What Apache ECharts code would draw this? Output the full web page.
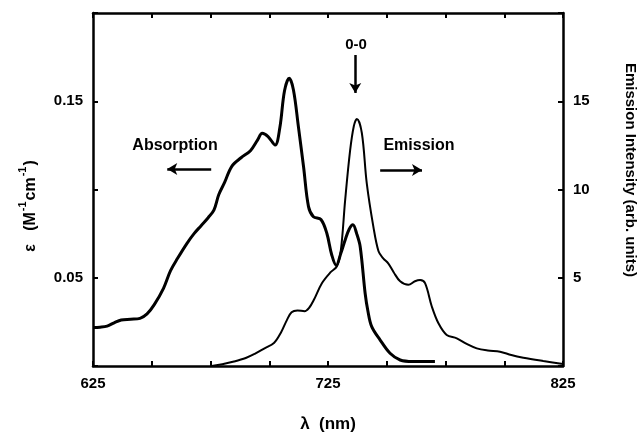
<!DOCTYPE html>
<html>
<head>
<meta charset="utf-8">
<script src="https://cdn.jsdelivr.net/npm/echarts@6/dist/echarts.min.js"></script>
<style>
  html, body { margin: 0; padding: 0; background: #fff; }
  #chart { width: 639px; height: 433px; }
</style>
</head>
<body>
<div id="chart"></div>
<script>
// absorption spectrum: wavelength (nm) vs epsilon (left axis)
const absNm = [625, 628, 631, 634, 637, 641, 645, 648, 651, 655, 658, 661, 665, 668, 671, 674, 676.5, 678.5, 681, 684,
  688, 692, 695, 697, 699.5, 702.5, 704.5, 706.5, 708.5, 710.3, 712.4, 714.6, 716.7, 718.8, 722, 724.5, 726.6, 728.5,
  730.5, 732.3, 734, 735.6, 737.2, 738.7, 740.8, 742, 743.6, 747.2, 751.4, 755.7, 761, 770.5]
const absEps = [0.0218, 0.0220, 0.0226, 0.0245, 0.0261, 0.0265, 0.0270, 0.0295, 0.0346, 0.0440, 0.0540, 0.0610, 0.0695,
  0.0750, 0.0795, 0.0840, 0.0885, 0.0970, 0.1040, 0.1130, 0.1180, 0.1220, 0.1280, 0.1318, 0.1300, 0.1252, 0.1350, 0.1560,
  0.1630, 0.1564, 0.1356, 0.1129, 0.0903, 0.0846, 0.0830, 0.0752, 0.0629, 0.0570, 0.0640, 0.0714, 0.0775, 0.0800, 0.0750,
  0.0676, 0.0412, 0.0310, 0.0223, 0.0147, 0.0072, 0.0034, 0.0025, 0.0025]

// emission spectrum: wavelength (nm) vs intensity (right axis)
const emNm = [675.5, 680, 685, 690, 694, 698, 702, 705, 707.5, 709.5, 712, 715, 717, 719, 722.4, 726, 728.8, 730.5,
  732.3, 734.4, 736, 737.3, 739.4, 741.5, 744.3, 746.5, 748.5, 750.7, 753, 755.7, 759.2, 762, 764.2, 766.3, 769.2, 772,
  775.5, 779.8, 784, 788.3, 793, 798.2, 803, 808.1, 816.6, 825]
const emInt = [0, 0.1, 0.25, 0.45, 0.7, 1.0, 1.3, 1.9, 2.6, 3.05, 3.15, 3.1, 3.3, 3.75, 4.69, 5.3, 5.65, 6.6, 9.4, 12.2,
  13.6, 14.0, 13.2, 10.35, 7.9, 6.5, 6.1, 5.8, 5.3, 4.8, 4.6, 4.8, 4.87, 4.69, 3.36, 2.42, 1.76, 1.57, 1.25, 1.0, 0.88,
  0.81, 0.62, 0.47, 0.28, 0.11]

const xLabels = [625, 725, 825]
const leftLabels = [0.05, 0.15]
const rightLabels = [5, 10, 15]

const FONT = "'Liberation Sans', Arial, sans-serif"
const chart = echarts.init(document.getElementById('chart'), null, { renderer: 'canvas' })

const axisLine = { onZero: false, lineStyle: { color: '#000', width: 2.5 } }
const tickIn = { inside: true, length: 5, lineStyle: { color: '#000', width: 2 } }
const lblStyle = { color: '#000', fontFamily: FONT, fontWeight: 'bold', fontSize: 15 }

const arrow = (from, to) => [{ coord: from }, { coord: to }]

chart.setOption({
  animation: false,
  backgroundColor: '#fff',
  grid: { left: 93, right: 76, top: 13, bottom: 67, containLabel: false, outerBoundsMode: 'none' },
  xAxis: [{
    type: 'value', min: 625, max: 825, interval: 25,
    axisLine, axisTick: tickIn, splitLine: { show: false },
    axisLabel: { ...lblStyle, margin: 10, formatter: v => xLabels.includes(v) ? String(v) : '' },
    name: 'λ  (nm)', nameLocation: 'middle', nameGap: 50,
    nameTextStyle: { color: '#000', fontFamily: FONT, fontWeight: 'bold', fontSize: 17 }
  }, {
    type: 'value', position: 'top', min: 625, max: 825, interval: 25,
    axisLine, axisTick: tickIn, axisLabel: { show: false }, splitLine: { show: false }
  }],
  yAxis: [{
    type: 'value', min: 0, max: 0.2, interval: 0.05,
    axisLine, axisTick: tickIn, splitLine: { show: false },
    axisLabel: { ...lblStyle, margin: 10, formatter: v => leftLabels.some(l => Math.abs(l - v) < 1e-9) ? v.toFixed(2) : '' }
  }, {
    type: 'value', position: 'right', min: 0, max: 20, interval: 5,
    axisLine, axisTick: tickIn, splitLine: { show: false },
    axisLabel: { ...lblStyle, margin: 10, formatter: v => rightLabels.includes(v) ? String(v) : '' }
  }],
  series: [{
    name: 'Absorption', type: 'line', xAxisIndex: 0, yAxisIndex: 0,
    data: absNm.map((x, i) => [x, absEps[i]]),
    showSymbol: false, smooth: 0.35, lineStyle: { color: '#000', width: 3 },
    markLine: {
      silent: true, symbol: ['none', 'arrow'], symbolSize: [9, 10],
      lineStyle: { color: '#000', width: 2.5, type: 'solid' }, label: { show: false },
      data: [
        arrow([675.3, 0.1116], [656.6, 0.1116]),
        arrow([747.2, 0.1110], [765.0, 0.1110]),
        arrow([736.6, 0.1762], [736.6, 0.1547])
      ]
    }
  }, {
    name: 'Emission', type: 'line', xAxisIndex: 0, yAxisIndex: 1,
    data: emNm.map((x, i) => [x, emInt[i]]),
    showSymbol: false, smooth: 0.35, lineStyle: { color: '#000', width: 2 }
  }],
  graphic: [
    { type: 'text', x: 175, y: 146, style: { text: 'Absorption', font: `bold 16px ${FONT}`, fill: '#000', align: 'center', verticalAlign: 'middle' } },
    { type: 'text', x: 419, y: 146, style: { text: 'Emission', font: `bold 16px ${FONT}`, fill: '#000', align: 'center', verticalAlign: 'middle' } },
    { type: 'text', x: 356, y: 45, style: { text: '0-0', font: `bold 15px ${FONT}`, fill: '#000', align: 'center', verticalAlign: 'middle' } },
    { type: 'text', x: 28, y: 206, rotation: Math.PI / 2,
      style: { text: '{n|ε   (M}{s|-1}{n|cm}{s|-1}{n|)}', fill: '#000', align: 'center', verticalAlign: 'middle',
        rich: {
          n: { fontSize: 16, fontWeight: 'bold', fontFamily: FONT, lineHeight: 22, verticalAlign: 'bottom' },
          s: { fontSize: 11, fontWeight: 'bold', fontFamily: FONT, lineHeight: 22, verticalAlign: 'top', padding: [0, 1, 0, 1] }
        } } },
    { type: 'text', x: 630, y: 170, rotation: -Math.PI / 2,
      style: { text: 'Emission Intensity (arb. units)', font: `bold 15px ${FONT}`, fill: '#000', align: 'center', verticalAlign: 'middle' } }
  ]
})

window.addEventListener('resize', () => chart.resize())
</script>
</body>
</html>
